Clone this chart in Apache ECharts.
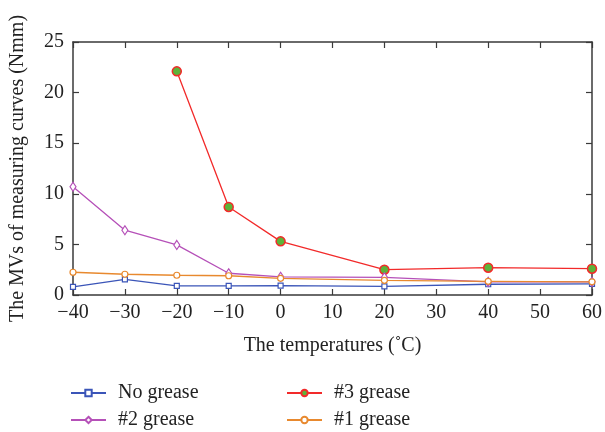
<!DOCTYPE html>
<html>
<head>
<meta charset="utf-8">
<script src="https://cdn.jsdelivr.net/npm/echarts@6/dist/echarts.min.js"></script>
<style>html,body{margin:0;padding:0;background:#fff}#c{width:605px;height:432px}</style>
</head>
<body>
<div id="c"></div>
<script>
var temps = [-40, -30, -20, -10, 0, 20, 40, 60];
var noGrease = [0.8, 1.55, 0.9, 0.9, 0.92, 0.86, 1.06, 1.1];
var grease2 = [10.7, 6.4, 4.95, 2.15, 1.8, 1.75, 1.3, 1.3];
var grease3 = [null, null, 22.1, 8.7, 5.3, 2.5, 2.7, 2.6];
var grease1 = [2.25, 2.05, 1.95, 1.9, 1.65, 1.45, 1.35, 1.3];
var xTicks = [-40, -30, -20, -10, 0, 10, 20, 30, 40, 50, 60];
var yTicks = [0, 5, 10, 15, 20, 25];
var seriesNames = ['No grease', '#2 grease', '#3 grease', '#1 grease'];

function pairs(vals) {
  var out = [];
  for (var i = 0; i < temps.length; i++) {
    if (vals[i] !== null) out.push([temps[i], vals[i]]);
  }
  return out;
}
var FONT = 'Liberation Serif';
var FS = 20;
var axisCol = '#3a3a3a';
var txtCol = '#222';
function lblFmt(v) { return (v < 0 ? '\u2212' + Math.abs(v) : String(v)); }

var chart = echarts.init(document.getElementById('c'), null, {renderer: 'canvas'});
function baseAxis(extra) {
  return Object.assign({
    axisLine: {show: true, onZero: false, lineStyle: {color: axisCol, width: 1.5}},
    axisTick: {show: true, inside: true, length: 6, lineStyle: {color: axisCol, width: 1.2}},
    splitLine: {show: false}
  }, extra);
}
var legendPos = [[70, 383], [70, 410], [286, 383], [286, 410]];
var legends = seriesNames.map(function (n, i) {
  return {
    data: [n], left: legendPos[i][0], top: legendPos[i][1], padding: 0,
    itemWidth: 35, itemHeight: 8,
    textStyle: {fontFamily: FONT, fontSize: FS, color: txtCol, padding: [0, 0, 0, 7]}
  };
});
chart.setOption({
  animation: false,
  textStyle: {fontFamily: FONT},
  grid: {left: 70, right: 12, top: 42, bottom: 137, containLabel: false},
  xAxis: [
    baseAxis({
      type: 'value', min: xTicks[0], max: xTicks[xTicks.length - 1], interval: 10, position: 'bottom',
      name: 'The temperatures (\u02daC)', nameLocation: 'middle', nameGap: 41,
      nameTextStyle: {fontFamily: FONT, fontSize: FS, color: txtCol},
      axisLabel: {fontFamily: FONT, fontSize: FS, color: txtCol, margin: 8, formatter: lblFmt}
    }),
    baseAxis({
      type: 'value', min: xTicks[0], max: xTicks[xTicks.length - 1], interval: 10, position: 'top',
      axisLabel: {show: false}
    })
  ],
  yAxis: [
    baseAxis({
      type: 'value', min: yTicks[0], max: yTicks[yTicks.length - 1], interval: 5, position: 'left',
      name: 'The MVs of measuring curves (Nmm)', nameLocation: 'middle', nameGap: 45,
      nameTextStyle: {fontFamily: FONT, fontSize: FS, color: txtCol},
      axisLabel: {fontFamily: FONT, fontSize: FS, color: txtCol, margin: 9}
    }),
    baseAxis({
      type: 'value', min: yTicks[0], max: yTicks[yTicks.length - 1], interval: 5, position: 'right',
      axisLabel: {show: false}
    })
  ],
  legend: legends,
  series: [
    {
      name: 'No grease', type: 'line', data: pairs(noGrease),
      symbol: 'rect', symbolSize: 5, showAllSymbol: true,
      lineStyle: {color: '#3b55b8', width: 1.3},
      itemStyle: {color: '#ffffff', borderColor: '#3b55b8', borderWidth: 1.2}
    },
    {
      name: '#3 grease', type: 'line', data: pairs(grease3),
      symbol: 'circle', symbolSize: 9, showAllSymbol: true,
      lineStyle: {color: '#f22a2a', width: 1.3},
      itemStyle: {color: '#5db43a', borderColor: '#f22a2a', borderWidth: 1.5}
    },
    {
      name: '#2 grease', type: 'line', data: pairs(grease2),
      symbol: 'diamond', symbolSize: [6, 9], showAllSymbol: true,
      lineStyle: {color: '#b550b8', width: 1.3},
      itemStyle: {color: '#ffffff', borderColor: '#b550b8', borderWidth: 1.2}
    },
    {
      name: '#1 grease', type: 'line', data: pairs(grease1),
      symbol: 'circle', symbolSize: 6, showAllSymbol: true,
      lineStyle: {color: '#e8892e', width: 1.3},
      itemStyle: {color: '#ffffff', borderColor: '#e8892e', borderWidth: 1.2}
    }
  ]
});
</script>
</body>
</html>
